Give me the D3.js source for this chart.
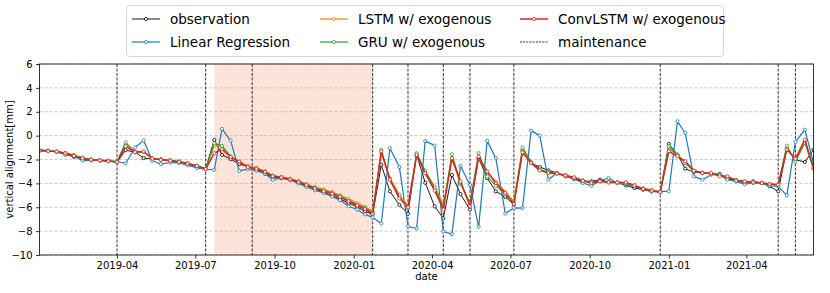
<!DOCTYPE html>
<html>
<head>
<meta charset="utf-8">
<script src="https://cdn.jsdelivr.net/npm/d3@7"></script>
<style>
  body { margin: 0; background: #fff; }
  svg { display: block; }
  text { font-family: "DejaVu Sans", sans-serif; }
</style>
</head>
<body>
<div id="chart"></div>
<script>
const dates = [
  '2019-01-01','2019-01-11','2019-01-21','2019-01-31','2019-02-10','2019-02-20','2019-03-02','2019-03-12','2019-03-22','2019-04-01',
  '2019-04-11','2019-04-22','2019-05-02','2019-05-12','2019-05-22','2019-06-02','2019-06-12','2019-06-22','2019-07-03','2019-07-13',
  '2019-07-23','2019-08-01','2019-08-11','2019-08-21','2019-08-31','2019-09-10','2019-09-20','2019-09-29','2019-10-09','2019-10-19',
  '2019-10-29','2019-11-07','2019-11-17','2019-11-27','2019-12-07','2019-12-16','2019-12-26','2020-01-05','2020-01-14','2020-01-23',
  '2020-02-02','2020-02-12','2020-02-23','2020-03-04','2020-03-14','2020-03-24','2020-04-04','2020-04-14','2020-04-24','2020-05-04',
  '2020-05-15','2020-05-25','2020-06-04','2020-06-14','2020-06-25','2020-07-05','2020-07-15','2020-07-25','2020-08-04','2020-08-14',
  '2020-08-24','2020-09-03','2020-09-13','2020-09-23','2020-10-03','2020-10-13','2020-10-23','2020-11-02','2020-11-12','2020-11-22',
  '2020-12-02','2020-12-12','2020-12-22','2021-01-01','2021-01-11','2021-01-20','2021-01-30','2021-02-09','2021-02-19','2021-03-01',
  '2021-03-10','2021-03-20','2021-03-30','2021-04-09','2021-04-19','2021-04-28','2021-05-08','2021-05-18','2021-05-28','2021-06-08',
  '2021-06-18'
];

const observation = [
  -1.25, -1.28, -1.36, -1.56, -1.78, -1.95, -2.03, -2.08, -2.14, -2.22,
  -1.22, -1.38, -1.88, -1.95, -2.0, -2.1, -2.2, -2.38, -2.58, -2.78,
  -0.36, -1.61, -1.97, -2.39, -2.58, -2.86, -3.19, -3.47, -3.56, -3.69,
  -3.97, -4.19, -4.47, -4.75, -5.03, -5.31, -5.64, -5.97, -6.33, -6.6,
  -2.44, -4.67, -5.8, -6.55, -1.6, -3.95, -5.93, -6.93, -3.3, -4.9,
  -6.2, -1.89, -3.56, -4.67, -5.14, -5.78, -1.25, -2.29, -2.63, -2.91,
  -3.13, -3.41, -3.64, -3.83, -3.83, -3.69, -3.89, -3.92, -4.17, -4.39,
  -4.53, -4.67, -4.73, -0.7, -1.59, -2.77, -3.05, -3.13, -3.19, -3.22,
  -3.61, -3.78, -3.92, -3.83, -3.97, -4.25, -4.67, -1.09, -2.01, -2.21,
  -1.2
];

const linearRegression = [
  -1.28, -1.3, -1.35, -1.6, -1.7, -2.1, -2.08, -2.08, -2.14, -2.17,
  -2.33, -1.0, -0.4, -2.1, -2.38, -2.25, -2.28, -2.47, -2.7, -2.83,
  -2.86, 0.56, -0.42, -2.95, -2.8, -2.94, -3.19, -3.69, -3.56, -3.69,
  -4.0, -4.3, -4.58, -4.8, -5.1, -5.4, -5.92, -6.19, -6.6, -6.85,
  -7.36, -1.05, -2.63, -7.6, -7.78, -0.46, -0.83, -8.03, -8.25, -2.53,
  -4.15, -7.64, -0.44, -1.89, -6.53, -6.06, -6.07, 0.42, 0.0, -3.69,
  -3.13, -3.36, -3.64, -3.97, -4.2, -3.78, -3.55, -4.0, -4.06, -4.25,
  -4.53, -4.67, -4.67, -4.67, 1.2, 0.22, -3.41, -3.69, -3.27, -3.27,
  -3.69, -3.83, -4.06, -3.97, -3.97, -4.2, -4.25, -5.0, -0.53, 0.5,
  -2.3
];

const lstm = [
  -1.22, -1.27, -1.33, -1.47, -1.65, -1.88, -2.0, -2.06, -2.12, -2.2,
  -0.75, -1.3, -1.35, -1.9, -2.0, -2.1, -2.2, -2.35, -2.55, -2.78,
  -0.86, -0.92, -1.75, -2.2, -2.55, -2.7, -3.0, -3.35, -3.45, -3.6,
  -3.8, -4.05, -4.3, -4.5, -4.72, -4.98, -5.3, -5.65, -5.97, -6.35,
  -1.5, -3.55, -4.94, -5.85, -1.75, -3.0, -4.25, -5.78, -1.95, -4.05,
  -5.75, -1.85, -3.1, -3.85, -4.7, -5.5, -1.2, -2.3, -2.9, -3.1,
  -3.2, -3.35, -3.5, -3.75, -3.9, -3.85, -3.9, -3.95, -3.95, -4.2,
  -4.4, -4.55, -4.7, -1.1, -1.6, -2.2, -2.9, -3.1, -3.15, -3.35,
  -3.45, -3.75, -3.85, -3.9, -3.95, -4.05, -4.1, -1.0, -2.0, -0.45,
  -2.7
];

const gru = [
  -1.2, -1.25, -1.33, -1.45, -1.62, -1.85, -2.0, -2.05, -2.1, -2.18,
  -0.56, -1.39, -1.36, -1.9, -2.0, -2.05, -2.15, -2.3, -2.5, -2.75,
  -0.64, -0.86, -1.75, -2.25, -2.58, -2.72, -3.0, -3.36, -3.47, -3.64,
  -3.83, -4.1, -4.39, -4.58, -4.8, -5.08, -5.44, -5.78, -6.06, -6.45,
  -1.2, -3.69, -5.08, -6.1, -1.47, -2.94, -4.39, -5.97, -1.56, -3.97,
  -5.64, -1.47, -3.42, -4.19, -4.94, -5.64, -1.0, -2.2, -2.85, -3.05,
  -3.15, -3.3, -3.55, -3.75, -3.9, -3.8, -3.9, -3.9, -3.95, -4.15,
  -4.45, -4.6, -4.73, -0.9, -1.65, -2.3, -3.0, -3.1, -3.2, -3.3,
  -3.45, -3.7, -3.85, -3.9, -3.95, -4.05, -4.15, -0.84, -2.2, -0.6,
  -2.77
];

const convLstm = [
  -1.23, -1.28, -1.33, -1.48, -1.7, -1.9, -2.02, -2.07, -2.13, -2.22,
  -0.9, -1.39, -1.33, -1.92, -2.03, -2.1, -2.2, -2.35, -2.55, -2.8,
  -1.47, -1.14, -1.8, -2.17, -2.64, -2.8, -3.05, -3.4, -3.5, -3.66,
  -3.88, -4.15, -4.42, -4.65, -4.88, -5.15, -5.5, -5.85, -6.15, -6.55,
  -1.31, -3.69, -5.25, -6.0, -1.61, -3.14, -4.61, -6.19, -1.89, -3.83,
  -5.92, -1.75, -3.0, -3.97, -4.81, -5.72, -1.4, -2.29, -2.91, -3.13,
  -3.19, -3.33, -3.5, -3.78, -3.97, -3.83, -3.92, -3.92, -3.92, -4.17,
  -4.48, -4.62, -4.73, -1.31, -1.73, -2.15, -2.94, -3.13, -3.13, -3.41,
  -3.41, -3.78, -3.83, -3.92, -3.97, -4.05, -4.11, -1.17, -1.93, -0.34,
  -2.7
];

const maintenanceDates = [
  '2019-04-01','2019-07-13','2019-09-05','2020-01-23','2020-03-04','2020-04-14',
  '2020-05-15','2020-07-05','2020-12-22','2021-05-08','2021-05-28'
];
const shadedPeriod = ['2019-07-23', '2020-01-23'];

const xTickLabels = ['2019-04','2019-07','2019-10','2020-01','2020-04','2020-07','2020-10','2021-01','2021-04'];
const yTickValues = [-10, -8, -6, -4, -2, 0, 2, 4, 6];

const series = [
  { name: 'observation', values: observation, color: '#000000', width: 0.9 },
  { name: 'Linear Regression', values: linearRegression, color: '#1f77b4', width: 1.2 },
  { name: 'LSTM w/ exogenous', values: lstm, color: '#ff7f0e', width: 1.2 },
  { name: 'GRU w/ exogenous', values: gru, color: '#2ca02c', width: 1.2 },
  { name: 'ConvLSTM w/ exogenous', values: convLstm, color: '#d62728', width: 1.5 }
];

const W = 830, H = 293;
const margin = { top: 64, right: 16.5, bottom: 38, left: 39.5 };
const width = W - margin.left - margin.right;
const height = H - margin.top - margin.bottom;

const parseDay = d3.timeParse('%Y-%m-%d');
const parseMonth = d3.timeParse('%Y-%m');
const days = dates.map(parseDay);

const svg = d3.select('#chart').append('svg')
  .attr('width', W)
  .attr('height', H);

const g = svg.append('g')
  .attr('transform', `translate(${margin.left},${margin.top})`);

const x = d3.scaleTime()
  .domain(d3.extent(days))
  .range([0, width]);

const y = d3.scaleLinear()
  .domain([-10, 6])
  .range([height, 0]);

svg.append('defs').append('clipPath')
  .attr('id', 'plot-clip')
  .append('rect')
  .attr('width', width)
  .attr('height', height);

// shaded period
g.append('rect')
  .attr('x', x(parseDay(shadedPeriod[0])))
  .attr('y', 0)
  .attr('width', x(parseDay(shadedPeriod[1])) - x(parseDay(shadedPeriod[0])))
  .attr('height', height)
  .attr('fill', '#fee3d9');

// horizontal grid
g.append('g')
  .selectAll('line')
  .data(yTickValues)
  .enter().append('line')
  .attr('x1', 0)
  .attr('x2', width)
  .attr('y1', d => y(d))
  .attr('y2', d => y(d))
  .attr('stroke', '#b8b8b8')
  .attr('stroke-width', 0.8)
  .attr('stroke-dasharray', '3,2');

// maintenance lines
g.append('g')
  .selectAll('line')
  .data(maintenanceDates)
  .enter().append('line')
  .attr('x1', d => x(parseDay(d)))
  .attr('x2', d => x(parseDay(d)))
  .attr('y1', 0)
  .attr('y2', height)
  .attr('stroke', '#000')
  .attr('stroke-width', 0.8)
  .attr('stroke-dasharray', '3,1.5');

const plot = g.append('g').attr('clip-path', 'url(#plot-clip)');

const line = d3.line()
  .x((d, i) => x(days[i]))
  .y(d => y(d));

series.forEach(s => {
  plot.append('path')
    .datum(s.values)
    .attr('fill', 'none')
    .attr('stroke', s.color)
    .attr('stroke-width', s.width)
    .attr('stroke-linejoin', 'round')
    .attr('d', line);

  plot.append('g')
    .selectAll('circle')
    .data(s.values)
    .enter().append('circle')
    .attr('cx', (d, i) => x(days[i]))
    .attr('cy', d => y(d))
    .attr('r', 1.6)
    .attr('fill', '#fff')
    .attr('stroke', s.color)
    .attr('stroke-width', 0.8);
});

// axes
const xAxis = g.append('g')
  .attr('transform', `translate(0,${height})`)
  .call(d3.axisBottom(x)
    .tickValues(xTickLabels.map(parseMonth))
    .tickFormat(d3.timeFormat('%Y-%m'))
    .tickSize(3.5)
    .tickPadding(3.5));

const yAxis = g.append('g')
  .call(d3.axisLeft(y)
    .tickValues(yTickValues)
    .tickSize(3.5)
    .tickPadding(3.5));

[xAxis, yAxis].forEach(a => {
  a.select('.domain').remove();
  a.selectAll('line').attr('stroke', '#000').attr('stroke-width', 0.8);
  a.selectAll('text')
    .attr('fill', '#000')
    .style('font-size', '10px')
    .style('font-family', '"DejaVu Sans", sans-serif');
});

// frame
g.append('rect')
  .attr('width', width)
  .attr('height', height)
  .attr('fill', 'none')
  .attr('stroke', '#000')
  .attr('stroke-width', 0.8);

// axis labels
g.append('text')
  .attr('x', width / 2)
  .attr('y', height + 25)
  .attr('text-anchor', 'middle')
  .style('font-size', '10px')
  .text('date');

g.append('text')
  .attr('transform', 'rotate(-90)')
  .attr('x', -height / 2)
  .attr('y', -margin.left + 13)
  .attr('text-anchor', 'middle')
  .style('font-size', '10px')
  .text('vertical alignment[mm]');

// legend
const legend = svg.append('g').attr('class', 'legend');

legend.append('rect')
  .attr('x', 126.5)
  .attr('y', 5.5)
  .attr('width', 597)
  .attr('height', 51)
  .attr('rx', 3)
  .attr('fill', '#fff')
  .attr('stroke', '#cccccc')
  .attr('stroke-width', 0.8);

const legendEntries = series.map(s => ({ name: s.name, color: s.color, width: s.width, marker: true }))
  .concat([{ name: 'maintenance', color: '#000', width: 0.8, marker: false, dash: '2,1.2' }]);

const colX = [132, 320, 520];
const rowY = [19, 42];

const items = legend.selectAll('.legend-item')
  .data(legendEntries)
  .enter().append('g')
  .attr('class', 'legend-item')
  .attr('transform', (d, i) => `translate(${colX[Math.floor(i / 2)]},${rowY[i % 2]})`);

items.append('line')
  .attr('x1', 0)
  .attr('x2', 28)
  .attr('stroke', d => d.color)
  .attr('stroke-width', d => d.width)
  .attr('stroke-dasharray', d => d.dash || null);

items.filter(d => d.marker).append('circle')
  .attr('cx', 14)
  .attr('r', 1.6)
  .attr('fill', '#fff')
  .attr('stroke', d => d.color)
  .attr('stroke-width', 0.8);

items.append('text')
  .attr('x', 38)
  .attr('dy', '0.36em')
  .style('font-size', '13.5px')
  .text(d => d.name);
</script>
</body>
</html>
